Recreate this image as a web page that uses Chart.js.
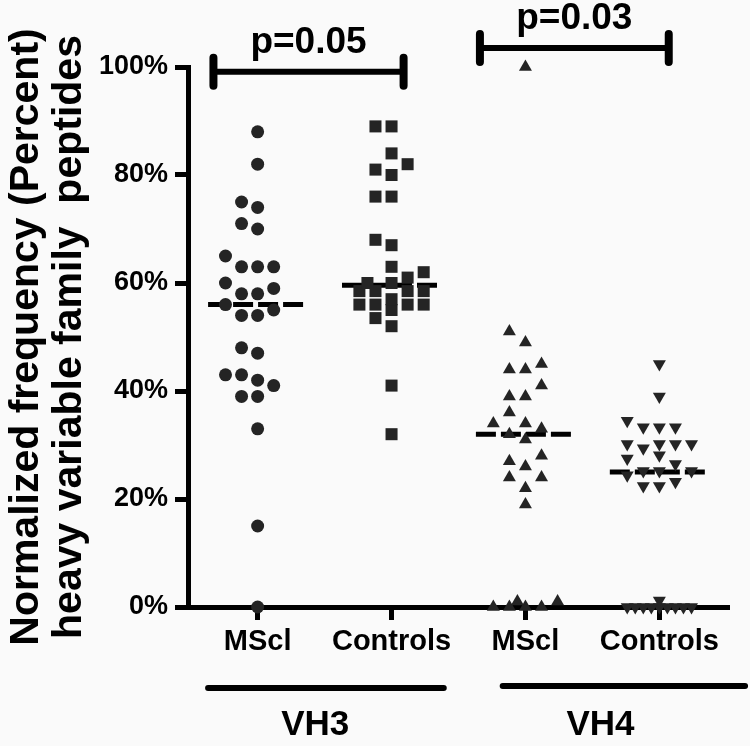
<!DOCTYPE html>
<html>
<head>
<meta charset="utf-8">
<script src="https://cdn.jsdelivr.net/npm/chart.js@4"></script>
<style>
  body { margin: 0; background: #fafafa; }
  #wrap { width: 750px; height: 746px; position: relative; }
</style>
</head>
<body>
<div id="wrap"><canvas id="grafico"></canvas></div>
<script>
// categorias do eixo x
const xLabels = ['MScl', 'Controls', 'MScl', 'Controls'];
const yTicks = [0, 20, 40, 60, 80, 100];

// valores (%)
const vh3MScl = [88, 82, 75, 74, 71, 70, 65, 63, 63, 63, 60, 59, 58, 58, 56, 55, 54, 54, 48, 47, 43, 43, 42, 41, 39, 39, 33, 15, 0];
const vh3Controls = [89, 89, 84, 82, 81, 80, 76, 76, 68, 67, 63, 62, 61, 60, 60, 58.5, 58.5, 58.5, 58.5, 57, 56, 56, 56, 56, 55, 53.5, 52, 41, 32];
const vh4MScl = [100, 51, 49, 45, 44, 44, 41, 39, 39, 36, 34, 34, 33, 32, 31, 28, 27, 26, 24, 24, 22, 19, 1, 1, 0, 0, 0, 0];
const vh4Controls = [45, 39, 34.5, 33.3, 33.3, 33.3, 30.2, 30.2, 30.2, 30.2, 29.4, 28.1, 27.5, 26.5, 25.2, 25.2, 25.2, 24.4, 23.2, 22.4, 22.4, 1.2, 0, 0, 0, 0, 0, 0, 0, 0, 0];
const medianas = [56, 59.6, 32, 25];

const pValues = ['p=0.05', 'p=0.03'];
const grupos = ['VH3', 'VH4'];

window.addEventListener('DOMContentLoaded', () => {

    const fonte = '"Liberation Sans", Arial, sans-serif';
    const cor = '#242424';

    // beeswarm simples: coloca cada ponto na coluna livre mais próxima do centro
    function swarm(vals, centro){
        const passo = 0.12, gapY = 2.4;
        const ordem = [0, -1, 1, -2, 2];
        const extra = [0, -0.5, 0.5, -1, 1, -1.5, 1.5, -2, 2];
        const ordenados = vals.slice().sort((a, b) => a - b);
        const colocados = [];
        const dist = (k, v) => {
            let m = Infinity;
            for (const p of colocados){
                const dx = p.k - k, dy = (p.y - v) / gapY;
                m = Math.min(m, Math.sqrt(dx*dx + dy*dy));
            }
            return m;
        };
        for (const v of ordenados){
            let escolha = null;
            for (const k of ordem){
                if (dist(k, v) >= 1){ escolha = k; break; }
            }
            if (escolha === null){
                let melhor = -1;
                for (const k of extra){
                    const d = dist(k, v);
                    if (d > melhor + 1e-9){ melhor = d; escolha = k; }
                }
            }
            colocados.push({k: escolha, y: v});
        }
        return colocados.map(p => ({x: centro + p.k*passo, y: p.y}));
    }

    function mediana(i){
        return {
            type: 'line',
            data: [{x: i + 1 - 0.37, y: medianas[i]}, {x: i + 1 + 0.37, y: medianas[i]}],
            borderColor: '#000',
            borderWidth: 5,
            borderDash: [20, 5],
            pointRadius: 0,
            clip: false
        };
    }

    function pontos(vals, i, estilo, raio, rot){
        return {
            type: 'scatter',
            data: swarm(vals, i + 1),
            pointStyle: estilo,
            pointRadius: raio,
            rotation: rot || 0,
            backgroundColor: cor,
            borderColor: cor,
            borderWidth: 0,
            clip: false
        };
    }

    // colchetes dos p-valores e linhas dos grupos
    const brackets = [
        {from: 0.67, to: 2.09, level: 99.1, text: pValues[0]},
        {from: 2.66, to: 4.07, level: 103.5, text: pValues[1]}
    ];
    const blocos = [
        {name: grupos[0], from: 0.63, to: 2.39, mid: 1.43, off: 81},
        {name: grupos[1], from: 2.83, to: 4.64, mid: 3.56, off: 79}
    ];

    const anotacoes = {
        id: 'anotacoes',
        afterDraw(chart){
            const {ctx, chartArea} = chart;
            const x = chart.scales.x, y = chart.scales.y;
            ctx.save();
            ctx.strokeStyle = '#000';
            ctx.fillStyle = '#000';
            ctx.lineCap = 'round';
            brackets.forEach(b => {
                const x1 = x.getPixelForValue(b.from), x2 = x.getPixelForValue(b.to);
                const yy = y.getPixelForValue(b.level);
                ctx.lineWidth = 6;
                ctx.beginPath(); ctx.moveTo(x1, yy); ctx.lineTo(x2, yy); ctx.stroke();
                ctx.lineWidth = 8;
                ctx.beginPath();
                ctx.moveTo(x1, yy - 14); ctx.lineTo(x1, yy + 14);
                ctx.moveTo(x2, yy - 14); ctx.lineTo(x2, yy + 14);
                ctx.stroke();
                ctx.font = 'bold 37px ' + fonte;
                ctx.textAlign = 'center';
                ctx.textBaseline = 'alphabetic';
                ctx.fillText(b.text, (x1 + x2) / 2, yy - 19);
            });
            blocos.forEach(g => {
                const yy = chartArea.bottom + g.off;
                ctx.lineWidth = 6;
                ctx.beginPath();
                ctx.moveTo(x.getPixelForValue(g.from), yy);
                ctx.lineTo(x.getPixelForValue(g.to), yy);
                ctx.stroke();
                ctx.font = 'bold 35px ' + fonte;
                ctx.textAlign = 'center';
                ctx.textBaseline = 'alphabetic';
                ctx.fillText(g.name, x.getPixelForValue(g.mid), chartArea.bottom + 128);
            });
            ctx.restore();
        }
    };

    const canvas = document.getElementById('grafico');
    new Chart(canvas, {
        data: {
            datasets: [
                pontos(vh3MScl, 0, 'circle', 6.5),
                pontos(vh3Controls, 1, 'rect', 8.5),
                pontos(vh4MScl, 2, 'triangle', 7.5),
                pontos(vh4Controls, 3, 'triangle', 7.5, 180),
                mediana(0), mediana(1), mediana(2), mediana(3)
            ]
        },
        options: {
            responsive: true,
            maintainAspectRatio: false,
            animation: false,
            layout: { padding: { left: 0, top: 67, right: 21, bottom: 0 } },
            plugins: {
                legend: { display: false },
                tooltip: { enabled: false }
            },
            scales: {
                x: {
                    type: 'linear',
                    min: 0.48,
                    max: 4.52,
                    afterBuildTicks: (s) => { s.ticks = xLabels.map((_, i) => ({value: i + 1})); },
                    afterFit: (s) => { s.height = 139; },
                    ticks: {
                        callback: (v) => xLabels[v - 1],
                        color: '#000',
                        padding: 5,
                        maxRotation: 0,
                        autoSkip: false,
                        font: { family: fonte, size: 29, weight: 'bold' }
                    },
                    grid: { drawOnChartArea: false, tickLength: 13, tickWidth: 5, tickColor: '#000' },
                    border: { width: 5, color: '#000' }
                },
                y: {
                    min: 0,
                    max: 100,
                    afterBuildTicks: (s) => { s.ticks = yTicks.map(v => ({value: v})); },
                    afterFit: (s) => { s.width = 188; },
                    ticks: {
                        callback: (v) => v + '%',
                        color: '#000',
                        padding: 7,
                        font: { family: fonte, size: 27, weight: 'bold' }
                    },
                    grid: { drawOnChartArea: false, tickLength: 13, tickWidth: 5, tickColor: '#000' },
                    border: { width: 5, color: '#000' },
                    title: {
                        display: true,
                        text: ['Normalized frequency (Percent)', 'heavy variable family  peptides'],
                        color: '#000',
                        padding: { top: 5, bottom: 0 },
                        font: { family: fonte, size: 41, weight: 'bold', lineHeight: 1.05 }
                    }
                }
            }
        },
        plugins: [anotacoes]
    });
});
</script>
</body>
</html>
